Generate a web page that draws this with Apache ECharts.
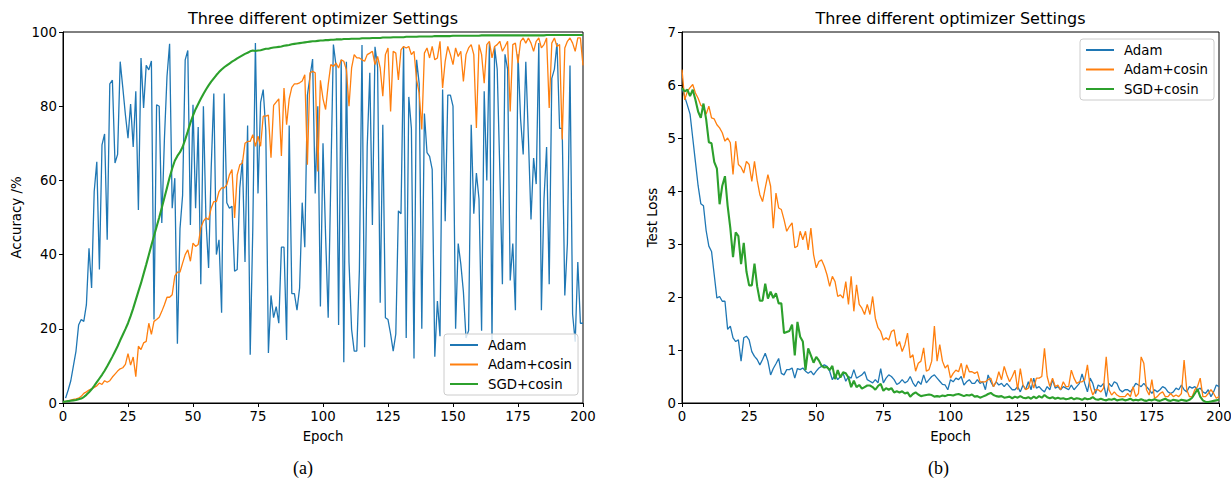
<!DOCTYPE html>
<html><head><meta charset="utf-8">
<script src="https://cdn.jsdelivr.net/npm/echarts@6/dist/echarts.min.js"></script>
<style>html,body{margin:0;padding:0;background:#fff}#c{width:1231px;height:478px}</style>
</head><body><div id="c"></div>
<script>
const seriesNames = ['Adam', 'Adam+cosin', 'SGD+cosin'];
const chartTitles = ['Three different optimizer Settings', 'Three different optimizer Settings'];
const captions = ['(a)', '(b)'];
const xTickLabels = ['0', '25', '50', '75', '100', '125', '150', '175', '200'];
const accTickLabels = ['0', '20', '40', '60', '80', '100'];
const lossTickLabels = ['0', '1', '2', '3', '4', '5', '6', '7'];

// Accuracy (%) – Adam, epochs 1..200
const accAdam = [
1.3,3.5,6,10,14,21,22.5,22,26.5,41.7,
31,57,65,36,69.6,72.5,44,86,87,64.7,
67,92,85,77.7,71.4,80.6,69,84,52,93,
79.5,91,89.8,92.2,22.5,80.4,80,48.5,71,88,
96.8,52.5,60.6,16,47,56,92.5,95,48,80.4,
52.5,74.4,32,80,49,36.4,63.3,83.4,40,44,
24.3,83.4,54,52.5,53,35.5,36,58,65.5,38,
74.8,13,47,97,56.5,81,84.5,73.5,13.5,29,
23,26,21.5,42,42,17,74.8,29.5,29.5,25,
31,54,42,83,88,92.7,56.5,80,26,70,
45,23,60,96.6,91,21,92.5,11,92,38,
19.8,14,14,36,96.5,15,69,89,48,96,
90.6,27,75,23,22.5,18.6,14,18.6,51.8,51,
96,17.5,82.5,74,12,92.5,86,20,78,67.5,
66.5,63,12.5,27.5,18,84.5,49,83,83,80,
20,43,37.5,30,17.5,19.5,75,51,62,55,
19.5,84,60,97,16.5,96,90,63,32,94,
90,33,43,25,94,76.5,67,92,71.5,49.5,
66,59,97,25,55,69,32,87.5,90,97,
74,74,29,43,91,24,16.5,38,21.5,21.5];

// Accuracy (%) – Adam+cosin, epochs 0..200
const accAdamCos = [
0.3,0.4,0.6,0.8,1.0,1.1,1.3,1.8,2.6,3.0,
3.5,3.8,4.2,4.6,5.4,5.0,6.0,5.6,6.0,7.0,
7.8,8.6,9.2,9.5,10.4,13.3,10.2,12.4,7.1,15.3,
14.4,16.2,16.6,21.5,18.5,22.0,22.5,23.1,24.7,26.5,
28.5,28.5,29.2,34.2,35.3,35.3,37.7,40.0,41.3,38.2,
43.1,42.2,42.7,47.2,49.0,49.9,49.4,52.5,54.3,54.3,
57.0,58.0,58.0,58.8,61.5,62.9,49.9,61.5,64.2,64.7,
70.0,70.5,70.5,72.3,69.2,71.9,69.2,77.3,77.3,77.6,
66.1,80.2,81.1,82.0,66.6,84.9,75.0,82.0,85.1,86.0,
86.0,86.3,86.8,88.5,64.2,89.0,89.4,89.0,62.4,87.0,
82.0,
79.1,85.8,91.2,90.7,91.6,90.3,92.5,92.1,89.8,80.0,
90.3,93.9,93.0,93.0,92.5,92.1,93.9,94.3,94.8,91.2,
93.4,90.3,82.7,93.9,95.7,78.6,94.8,94.3,87.1,95.2,
96.1,95.7,96.1,93.9,94.8,87.1,83.5,73.7,94.3,95.7,
93.0,96.1,92.5,93.0,97.5,84.9,92.1,96.1,93.9,91.2,
95.7,93.4,94.8,86.7,93.9,95.7,96.6,93.9,74.1,96.6,
93.9,86.2,96.6,97.5,93.0,96.1,96.6,97.5,94.8,96.1,
97.5,78.6,96.6,97.0,91.6,97.5,98.4,97.0,98.4,97.0,
94.8,97.5,98.4,95.7,96.6,98.4,79.5,97.0,98.4,96.1,
96.6,71.0,95.7,97.5,98.4,97.0,94.8,98.4,98.4,91.0];

// Accuracy (%) – SGD+cosin, epochs 0..200
const accSGD = [
0.3,0.4,0.5,0.6,0.7,0.8,1.0,1.2,1.6,2.2,
2.9,3.7,4.6,5.6,6.6,7.6,8.7,9.9,11.2,12.5,
13.9,15.3,16.9,18.4,19.9,21.5,23.4,25.5,27.8,30.1,
32.3,34.8,37.3,39.9,42.5,45.0,47.5,50.0,52.6,55.3,
58.0,60.8,63.2,65.3,66.6,67.6,69.0,71.0,73.2,75.5,
77.5,79.2,80.6,82.0,83.3,84.5,85.6,86.6,87.5,88.4,
89.2,89.9,90.5,91.0,91.5,92.0,92.4,92.9,93.3,93.7,
94.1,94.4,94.8,95.0,94.9,95.0,95.1,95.3,95.5,95.5,
95.7,95.8,95.9,96.0,96.1,96.3,96.4,96.5,96.7,96.8,
96.9,97.0,97.1,97.2,97.3,97.4,97.5,97.5,97.6,97.7,
97.7,
97.8,97.8,97.9,97.9,98.0,98.0,98.0,98.1,98.1,98.1,
98.2,98.2,98.2,98.2,98.3,98.3,98.3,98.3,98.4,98.4,
98.4,98.4,98.5,98.5,98.5,98.5,98.6,98.6,98.6,98.6,
98.6,98.7,98.7,98.7,98.7,98.7,98.8,98.8,98.8,98.8,
98.8,98.8,98.9,98.9,98.9,98.9,98.9,98.9,98.9,99.0,
99.0,99.0,99.0,99.0,99.0,99.0,99.0,99.0,99.0,99.0,
99.1,99.1,99.1,99.1,99.1,99.1,99.1,99.1,99.1,99.1,
99.1,99.1,99.1,99.1,99.1,99.1,99.1,99.1,99.1,99.1,
99.1,99.1,99.1,99.1,99.1,99.2,99.2,99.2,99.2,99.2,
99.2,99.2,99.2,99.2,99.2,99.2,99.2,99.2,99.2,99.2];

// Test loss – Adam, epochs 0..200
const lossAdam = [
5.94,5.78,5.62,5.45,5.0,4.55,4.1,3.76,3.72,3.25,
2.96,2.86,2.42,1.98,2.01,1.92,1.92,1.39,1.45,1.23,
1.16,1.19,0.79,1.23,1.26,1.19,0.97,0.88,0.82,0.72,
0.82,0.94,0.79,0.53,0.65,0.74,0.84,0.56,0.53,0.63,
0.63,0.66,0.47,0.65,0.63,0.66,0.60,0.56,0.60,0.53,
0.60,0.66,0.69,0.72,0.69,0.60,0.44,0.53,0.44,0.50,
0.56,0.41,0.50,0.47,0.63,0.47,0.50,0.53,0.59,0.44,
0.41,0.38,0.44,0.38,0.65,0.38,0.47,0.53,0.50,0.44,
0.35,0.38,0.44,0.38,0.41,0.50,0.38,0.31,0.41,0.35,
0.53,0.38,0.44,0.50,0.53,0.47,0.41,0.35,0.34,0.25,
0.44,0.40,0.47,0.44,0.50,0.34,0.40,0.44,0.37,0.37,
0.44,0.37,0.40,0.25,0.53,0.40,0.31,0.40,0.34,0.37,
0.31,0.37,0.31,0.25,0.25,0.31,0.21,0.34,0.25,0.40,
0.25,0.47,0.28,0.31,0.25,0.21,0.31,0.25,0.44,0.28,
0.31,0.25,0.31,0.28,0.25,0.34,0.25,0.31,0.37,0.55,
0.37,0.21,0.47,0.37,0.18,0.34,0.31,0.37,0.12,0.37,
0.31,0.40,0.37,0.25,0.21,0.25,0.25,0.21,0.28,0.37,
0.34,0.31,0.37,0.31,0.25,0.18,0.25,0.21,0.25,0.31,
0.28,0.21,0.18,0.21,0.28,0.25,0.34,0.25,0.21,0.31,
0.28,0.31,0.25,0.28,0.21,0.18,0.25,0.12,0.21,0.34,
0.31];

// Test loss – Adam+cosin, epochs 0..200
const lossAdamCos = [
6.29,5.72,5.88,5.95,6.01,5.85,5.75,5.62,5.58,5.45,
5.60,5.38,5.36,5.25,5.19,5.10,4.94,5.00,4.91,4.31,
4.94,4.50,4.45,4.34,4.56,4.50,4.18,4.56,4.20,3.93,
3.80,4.06,4.31,4.09,3.30,3.96,3.68,3.65,3.46,3.24,
3.33,3.40,2.93,2.96,3.24,3.08,3.24,2.89,3.30,2.80,
2.55,2.67,2.70,2.58,2.42,2.20,2.39,2.29,2.01,2.04,
1.98,2.29,1.86,2.39,1.73,2.23,1.86,1.79,1.67,1.86,
1.67,2.01,1.60,1.42,1.35,1.19,1.23,1.19,1.35,1.38,
1.07,1.16,0.97,1.10,1.32,0.85,0.91,0.60,0.75,0.79,
1.04,0.60,0.63,0.79,1.45,0.79,1.10,0.79,0.66,0.72,
0.47,0.56,0.62,0.59,0.75,0.47,0.72,0.59,0.59,0.56,
0.59,0.40,0.40,0.40,0.44,0.47,0.31,0.40,0.59,0.44,
0.69,0.53,0.40,0.50,0.62,0.25,0.65,0.34,0.25,0.28,
0.47,0.28,0.47,0.47,0.50,1.03,0.50,0.31,0.47,0.31,
0.34,0.25,0.40,0.31,0.31,0.62,0.47,0.37,0.40,0.40,
0.44,0.72,0.31,0.15,0.25,0.25,0.21,0.28,0.87,0.25,
0.15,0.21,0.15,0.12,0.12,0.12,0.18,0.12,0.31,0.12,
0.18,0.87,0.75,0.25,0.15,0.44,0.09,0.12,0.18,0.21,
0.12,0.12,0.18,0.12,0.15,0.12,0.18,0.81,0.25,0.12,
0.12,0.25,0.31,0.47,0.12,0.12,0.18,0.25,0.18,0.09,
0.12];

// Test loss – SGD+cosin, epochs 0..200
const lossSGD = [
5.94,5.88,5.91,5.79,5.91,5.72,5.50,5.38,5.65,5.35,
4.92,4.90,4.55,4.42,3.75,4.10,4.28,3.72,3.30,2.75,
3.22,3.15,2.62,3.02,2.48,2.22,2.22,2.63,2.20,1.93,
1.93,2.25,1.97,2.10,1.98,2.07,1.88,1.88,1.32,1.34,
1.36,1.48,0.90,1.53,1.25,1.16,0.62,1.03,0.90,0.76,
0.87,0.80,0.70,0.67,0.68,0.62,0.70,0.45,0.62,0.48,
0.58,0.56,0.48,0.30,0.42,0.30,0.34,0.27,0.30,0.33,
0.33,0.30,0.25,0.32,0.36,0.23,0.28,0.25,0.28,0.20,
0.22,0.20,0.22,0.18,0.20,0.12,0.17,0.20,0.16,0.13,
0.14,0.15,0.16,0.15,0.12,0.13,0.12,0.14,0.13,0.15,
0.15,0.14,0.16,0.17,0.15,0.13,0.15,0.14,0.16,0.12,
0.13,0.10,0.12,0.14,0.17,0.19,0.15,0.13,0.12,0.13,
0.10,0.11,0.12,0.09,0.12,0.10,0.13,0.10,0.09,0.11,
0.08,0.12,0.09,0.13,0.10,0.15,0.11,0.09,0.11,0.08,
0.10,0.08,0.09,0.07,0.08,0.10,0.07,0.09,0.08,0.06,
0.09,0.07,0.08,0.11,0.07,0.06,0.08,0.06,0.05,0.07,
0.06,0.08,0.05,0.06,0.07,0.05,0.06,0.08,0.05,0.06,
0.05,0.07,0.05,0.04,0.06,0.05,0.07,0.05,0.04,0.06,
0.08,0.05,0.04,0.06,0.05,0.04,0.06,0.05,0.04,0.06,
0.10,0.18,0.26,0.12,0.05,0.02,0.02,0.03,0.04,0.05,
0.06];

const FONT = 'DejaVu Sans';
const COLORS = ['#1f77b4', '#ff7f0e', '#2ca02c'];
const WIDTHS = [1.3, 1.3, 2.1];

const pairs = (arr, start) => arr.map((v, i) => [start + i, v]);

function xAxisDef(gridIndex) {
  return {
    type: 'value', gridIndex, min: 0, max: 200, interval: 25,
    name: 'Epoch', nameLocation: 'middle', nameGap: 27,
    nameTextStyle: { fontFamily: FONT, fontSize: 13.3, color: '#000' },
    axisLine: { show: true, onZero: false, lineStyle: { color: '#000', width: 1 } },
    axisTick: { show: true, length: 4, lineStyle: { color: '#000', width: 1 } },
    axisLabel: { margin: 7, fontFamily: FONT, fontSize: 13.3, color: '#000',
      formatter: v => xTickLabels[Math.round(v / 25)] },
    splitLine: { show: false }
  };
}
function yAxisDef(gridIndex, max, interval, name, gap, labels) {
  return {
    type: 'value', gridIndex, min: 0, max, interval,
    name, nameLocation: 'middle', nameGap: gap,
    nameTextStyle: { fontFamily: FONT, fontSize: 13.3, color: '#000' },
    axisLine: { show: true, onZero: false, lineStyle: { color: '#000', width: 1 } },
    axisTick: { show: true, length: 4, lineStyle: { color: '#000', width: 1 } },
    axisLabel: { margin: 6, fontFamily: FONT, fontSize: 13.3, color: '#000',
      formatter: v => labels[Math.round(v / interval)] },
    splitLine: { show: false }
  };
}
function legendDef(left, top) {
  return {
    orient: 'vertical', left, top,
    padding: [4, 6, 4, 5],
    itemWidth: 28, itemHeight: 14, itemGap: 5.5,
    backgroundColor: 'rgba(255,255,255,0.8)',
    borderColor: '#cccccc', borderWidth: 1, borderRadius: 3,
    itemStyle: { opacity: 0 },
    textStyle: { fontFamily: FONT, fontSize: 13.3, color: '#000', lineHeight: 14, padding: [0, 0, 0, 5] },
    data: seriesNames
  };
}
function lineSeries(k, gi, data) {
  return {
    type: 'line', name: seriesNames[k], xAxisIndex: gi, yAxisIndex: gi,
    data, symbol: 'none', showSymbol: false, animation: false,
    lineStyle: { color: COLORS[k], width: WIDTHS[k] },
    itemStyle: { color: COLORS[k] }
  };
}

const chart = echarts.init(document.getElementById('c'), null, { renderer: 'svg' });
chart.setOption({
  animation: false,
  backgroundColor: '#fff',
  grid: [
    { left: 63, top: 32, width: 520, height: 371, show: true, borderColor: '#000', borderWidth: 1, backgroundColor: 'transparent', outerBoundsMode: 'none' },
    { left: 682, top: 32, width: 537, height: 371, show: true, borderColor: '#000', borderWidth: 1, backgroundColor: 'transparent', outerBoundsMode: 'none' }
  ],
  xAxis: [xAxisDef(0), xAxisDef(1)],
  yAxis: [
    yAxisDef(0, 100, 20, 'Accuracy /%', 40, accTickLabels),
    yAxisDef(1, 7, 1, 'Test Loss', 23, lossTickLabels)
  ],
  legend: [legendDef(444, 334), legendDef(1080, 39)],
  series: [
    lineSeries(0, 0, pairs(accAdam, 1)),
    lineSeries(1, 0, pairs(accAdamCos, 0)),
    lineSeries(2, 0, pairs(accSGD, 0)),
    lineSeries(0, 1, pairs(lossAdam, 0)),
    lineSeries(1, 1, pairs(lossAdamCos, 0)),
    lineSeries(2, 1, pairs(lossSGD, 0))
  ],
  graphic: [
    { type: 'text', x: 323, y: 18, style: { text: chartTitles[0], fontFamily: FONT, fontSize: 16, fill: '#000', align: 'center', verticalAlign: 'middle' } },
    { type: 'text', x: 950.5, y: 18, style: { text: chartTitles[1], fontFamily: FONT, fontSize: 16, fill: '#000', align: 'center', verticalAlign: 'middle' } },
    { type: 'text', x: 303, y: 468, style: { text: captions[0], fontFamily: 'Liberation Serif', fontSize: 18, fill: '#000', align: 'center', verticalAlign: 'middle' } },
    { type: 'text', x: 938.5, y: 468, style: { text: captions[1], fontFamily: 'Liberation Serif', fontSize: 18, fill: '#000', align: 'center', verticalAlign: 'middle' } }
  ]
});
</script>
</body></html>
